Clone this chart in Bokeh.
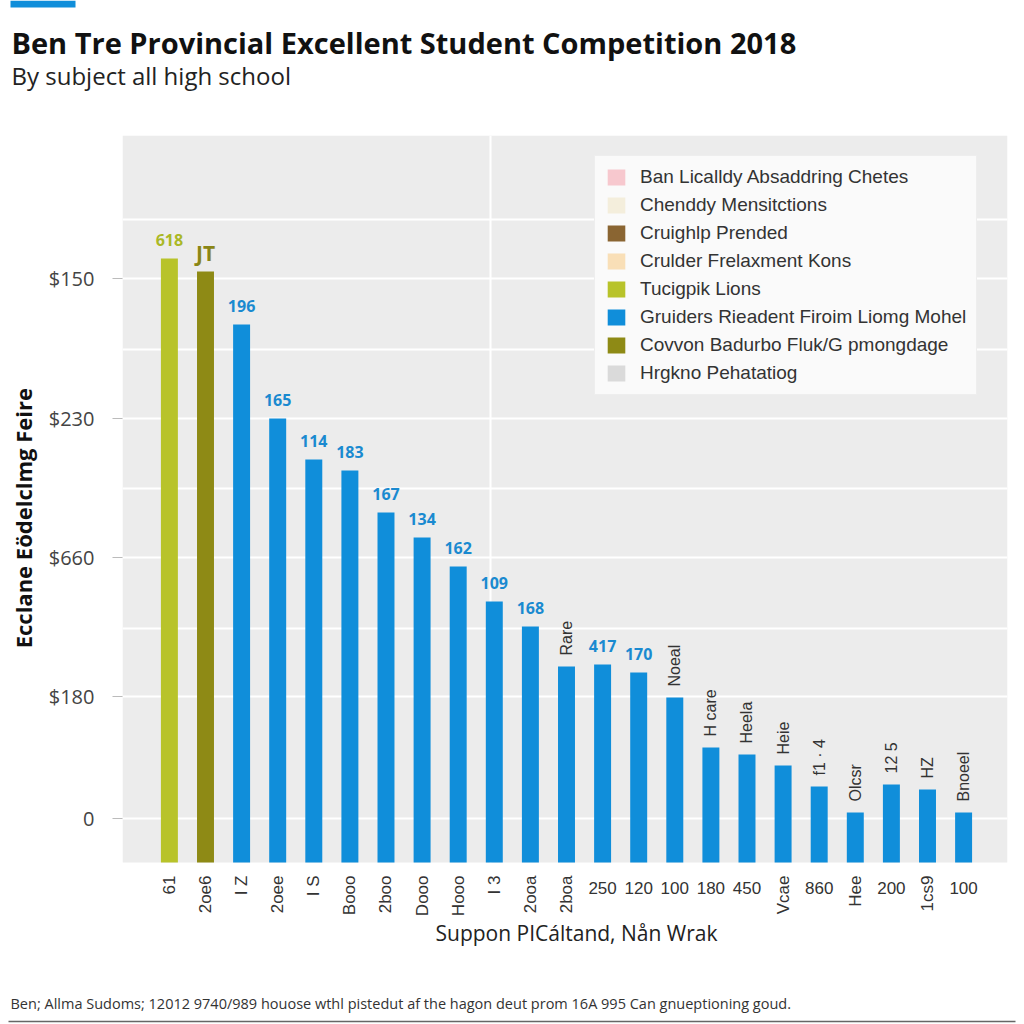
import math
from bokeh.plotting import figure
from bokeh.layouts import column, row
from bokeh.models import Range1d, FixedTicker, Legend, LegendItem, ColumnDataSource
from bokeh.core.properties import value
from bokeh.embed import file_html
from bokeh.resources import INLINE

# ---------------- data ----------------
title_text = "Ben Tre Provincial Excellent Student Competition 2018"
subtitle_text = "By subject all high school"
y_axis_title = "Ecclane Eödelclmg Feire"
x_axis_title = "Suppon PICáltand, Nån Wrak"
footer_text = ("Ben; Allma Sudoms; 12012 9740/989 houose wthl pistedut af the hagon "
               "deut prom 16A 995 Can gnueptioning goud.")

tick_labels = ["61", "2oe6", "I Z", "2oee", "I S", "Booo", "2boo", "Dooo", "Hooo", "I 3",
               "2ooa", "2boa", "250", "120", "100", "180", "450", "Vcae", "860", "Hee",
               "200", "1cs9", "100"]
bar_values = [604, 591, 538, 444, 403, 392, 350, 325, 296, 261, 236, 196, 198, 190,
              165, 115, 108, 97, 76, 50, 78, 73, 50]
value_labels = ["618", "JT", "196", "165", "114", "183", "167", "134", "162", "109", "168",
                "", "417", "170", "", "", "", "", "", "", "", "", ""]
note_labels = ["", "", "", "", "", "", "", "", "", "", "", "Rare", "", "", "Noeal", "H care",
               "Heela", "Heie", "f1 · 4", "Olcsr", "12 5", "HZ", "Bnoeel"]
y_tick_values = [44, 166, 305, 444, 584]
y_tick_labels = ["0", "$180", "$660", "$230", "$150"]
grid_values = [44, 166, 234, 305, 374, 444, 513, 584, 643]
vgrid_values = [9.9]
legend_labels = ["Ban Licalldy Absaddring Chetes", "Chenddy Mensitctions", "Cruighlp Prended",
                 "Crulder Frelaxment Kons", "Tucigpik Lions",
                 "Gruiders Rieadent Firoim Liomg Mohel", "Covvon Badurbo Fluk/G pmongdage",
                 "Hrgkno Pehatatiog"]
legend_colors = ["#f7c8ce", "#f4eedc", "#8a6532", "#f9dfb7", "#b8c32a", "#108eda",
                 "#8e8a15", "#dadada"]

# ---------------- styles ----------------
BLUE = "#108eda"
YG = "#b8c32a"
OLIVE = "#8e8a15"
GRAY_BG = "#ececec"
TXT = "#333333"

n = len(bar_values)
xs = list(range(1, n + 1))
bar_colors = [YG, OLIVE] + [BLUE] * (n - 2)


def bare(width, height, xr, yr):
    f = figure(width=width, height=height, x_range=Range1d(*xr), y_range=Range1d(*yr),
               output_backend="svg", toolbar_location=None, x_axis_location=None,
               y_axis_location=None, min_border=0, outline_line_color=None)
    f.grid.visible = False
    return f


# ---------------- header ----------------
hdr = bare(1024, 130, (0, 1024), (0, 130))
hdr.quad(left=[10], right=[75], top=[130], bottom=[123], fill_color=BLUE, line_color=None)
hdr.text(x=[11], y=[130 - 42], text=[title_text], text_baseline="middle",
         text_font=value("Open Sans"), text_font_style="bold", text_font_size="29px",
         text_color="#111111")
hdr.text(x=[11], y=[130 - 75], text=[subtitle_text], text_baseline="middle",
         text_font=value("Open Sans"), text_font_size="24px", text_color="#222222")

# ---------------- y-axis title strip ----------------
yl = bare(45, 830, (0, 45), (0, 830))
yl.text(x=[22], y=[830 - (515 - 130)], text=[y_axis_title], angle=math.pi / 2,
        text_align="center", text_baseline="middle", text_font=value("Open Sans"),
        text_font_style="bold", text_font_size="22px", text_color="#111111")

# ---------------- main plot ----------------
x0 = 1 - (167 - 120) / 36.18
x1 = n + (1007 - 963) / 36.18
main = figure(width=979, height=830, x_range=Range1d(x0, x1), y_range=Range1d(-98, 727),
              output_backend="svg", toolbar_location=None, x_axis_location=None,
              min_border_left=75, min_border_right=17, min_border_top=5, min_border_bottom=0,
              background_fill_color="white", border_fill_color="white",
              outline_line_color=None)
main.grid.visible = False

main.hstrip(y0=[0], y1=[main.y_range.end], fill_color=GRAY_BG, line_color=None)
main.hspan(y=grid_values, line_color="white", line_width=2)
main.vspan(x=vgrid_values, line_color="white", line_width=2)

src = ColumnDataSource(dict(x=xs, top=bar_values, color=bar_colors))
main.vbar(x="x", top="top", bottom=0, width=0.47, fill_color="color", line_color=None,
          source=src)


def subset(idx):
    return dict(x=[xs[i] for i in idx], y=[bar_values[i] for i in idx],
                t=[value_labels[i] for i in idx])


main.text(x="x", y="y", text="t", source=ColumnDataSource(subset([0])), y_offset=-19,
          text_align="center", text_baseline="middle", text_font=value("Open Sans"),
          text_font_style="bold", text_font_size="16px", text_color="#aab826")
main.text(x="x", y="y", text="t", source=ColumnDataSource(subset([1])), y_offset=-19,
          text_align="center", text_baseline="middle", text_font=value("Open Sans"),
          text_font_style="bold", text_font_size="21px", text_color="#8a8616")
blue_idx = [i for i in range(2, n) if value_labels[i]]
main.text(x="x", y="y", text="t", source=ColumnDataSource(subset(blue_idx)), y_offset=-19,
          text_align="center", text_baseline="middle", text_font=value("Open Sans"),
          text_font_style="bold", text_font_size="16px", text_color="#1a8ad0")

note_idx = [i for i in range(n) if note_labels[i]]
main.text(x=[xs[i] for i in note_idx], y=[bar_values[i] for i in note_idx],
          text=[note_labels[i] for i in note_idx], angle=math.pi / 2, y_offset=-11,
          text_align="left", text_baseline="middle", text_font=value("Liberation Sans"),
          text_font_size="16px", text_color=TXT)

upright = {12, 13, 14, 15, 16, 18, 20, 22}
rot_idx = [i for i in range(n) if i not in upright]
up_idx = [i for i in range(n) if i in upright]
main.text(x=[xs[i] for i in rot_idx], y=[-13] * len(rot_idx),
          text=[tick_labels[i] for i in rot_idx], angle=math.pi / 2,
          text_align="right", text_baseline="middle", text_font=value("Liberation Sans"),
          text_font_size="17px", text_color=TXT)
main.text(x=[xs[i] for i in up_idx], y=[-25] * len(up_idx),
          text=[tick_labels[i] for i in up_idx],
          text_align="center", text_baseline="middle", text_font=value("Liberation Sans"),
          text_font_size="17px", text_color=TXT)
main.text(x=[1 + (575 - 167) / 36.18], y=[-70], text=[x_axis_title],
          text_align="center", text_baseline="middle", text_font=value("Open Sans"),
          text_font_size="21px", text_color="#222222")

yax = main.yaxis[0]
yax.ticker = FixedTicker(ticks=y_tick_values)
yax.major_label_overrides = {v: l for v, l in zip(y_tick_values, y_tick_labels)}
yax.axis_line_color = None
yax.major_tick_line_color = "#bbbbbb"
yax.major_tick_out = 10
yax.major_tick_in = 0
yax.minor_tick_line_color = None
yax.major_label_standoff = 18
yax.major_label_text_font = "Open Sans"
yax.major_label_text_font_size = "20px"
yax.major_label_text_color = "#444444"

items = []
for lab, col in zip(legend_labels, legend_colors):
    r = main.vbar(x=[float("nan")], top=[float("nan")], width=0.5, fill_color=col,
                  line_color=None)
    items.append(LegendItem(label=lab, renderers=[r]))
leg = Legend(items=items, location=(472, 565), glyph_width=22, glyph_height=20,
             label_height=20, label_standoff=13, padding=10, spacing=6, margin=0,
             label_text_font="Liberation Sans", label_text_font_size="19px",
             label_text_color=TXT, background_fill_color="#fafafa",
             background_fill_alpha=1.0, border_line_color="#e2e2e2")
main.add_layout(leg)

# ---------------- footer ----------------
ftr = bare(1024, 64, (0, 1024), (0, 64))
ftr.text(x=[10], y=[64 - 43], text=[footer_text], text_baseline="middle",
         text_font=value("Open Sans"), text_font_size="14.5px", text_color=TXT)
ftr.segment(x0=[8], x1=[1015], y0=[3], y1=[3], line_color="#666666", line_width=1.5)

layout = column(hdr, row(yl, main), ftr)
open("out.html", "w").write(file_html(layout, INLINE))
